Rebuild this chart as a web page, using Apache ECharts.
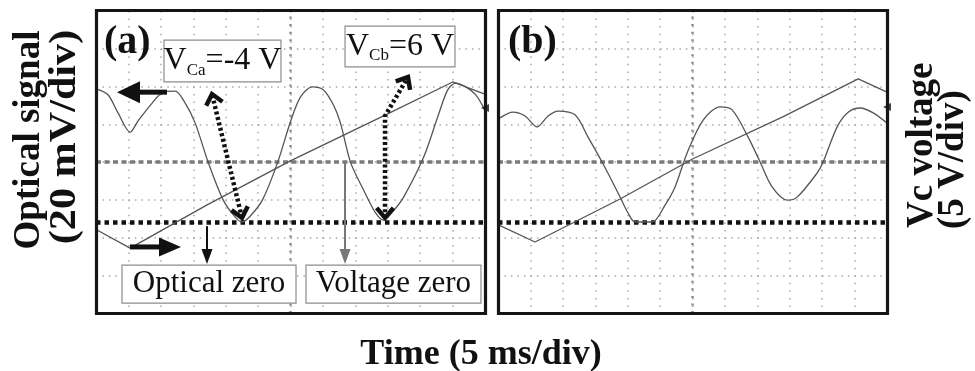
<!DOCTYPE html>
<html><head><meta charset="utf-8">
<script src="https://cdn.jsdelivr.net/npm/echarts@6/dist/echarts.min.js"></script>
<style>html,body{margin:0;padding:0;background:#fff}#c{width:975px;height:371px}</style>
</head><body><div id="c"></div>
<script>
// Time in ms (5 ms/div, 12 div), signals in screen divisions (0..8 div)
const timeA = [0.15,1.85,3.40,5.26,6.49,8.66,10.36,12.21,13.76,15.30,17.31,19.63,21.48,22.57,23.80,25.66,27.98,29.98,31.53,33.38,35.08,36.63,37.71,39.26,41.27,43.12,44.36,45.75,47.45,50.54,52.70,54.25,55.49,57.03,58.58,59.97];
const opticalA = [5.93,5.78,5.30,4.79,5.09,5.56,5.85,5.88,5.56,5.03,3.99,2.99,2.54,2.41,2.57,2.99,3.97,5.06,5.72,5.99,5.91,5.51,5.03,3.99,3.26,2.65,2.46,2.68,3.07,4.13,5.19,5.91,6.09,5.99,5.78,5.38];
const rampTimeA = [0.15,5.26,17.0,29.98,44.67,55.02,59.97];
const rampA = [2.20,1.72,2.85,4.03,5.25,6.12,5.80];

const timeB = [0.31,2.31,4.17,6.02,7.72,9.26,11.88,13.89,16.05,18.52,20.06,21.14,23.77,25.77,27.31,29.17,31.64,34.26,36.11,38.58,40.43,42.28,44.60,46.14,49.23,50.15,52.31,54.01,55.86,57.87,60.0];
const opticalB = [5.17,5.32,5.22,4.93,5.22,5.35,5.25,4.66,4.00,3.18,2.65,2.41,2.41,2.86,3.34,4.24,5.11,5.46,5.38,4.66,4.00,3.34,2.99,3.07,3.71,4.00,4.93,5.32,5.43,5.30,5.03];
const rampTimeB = [0.15,5.71,18.83,30.0,44.0,55.56,60.0];
const rampB = [2.33,1.88,3.02,4.08,5.20,6.20,5.85];

const opticalZeroLevel = 2.40;   // div
const voltageZeroLevel = 4.00;   // div (centre line)
const centreTime = 30;           // ms
const markerLevelA = 5.43, markerLevelB = 5.46;

const chart = echarts.init(document.getElementById('c'), null, {renderer: 'canvas'});

const gridBase = {top: 11, width: 389, height: 302, show: true, borderWidth: 0, backgroundColor: '#fff'};
function xAx(g) {
  return {gridIndex: g, type: 'value', min: 0, max: 60, interval: 5,
    axisLabel: {show: false}, axisTick: {show: false}, axisLine: {show: false},
    splitLine: {show: true, showMinLine: false, showMaxLine: false,
      lineStyle: {color: '#a8a8a8', width: 1.5, type: [1.5, 6.05]}}};
}
function yAx(g) {
  return {gridIndex: g, type: 'value', min: 0, max: 8, interval: 1,
    axisLabel: {show: false}, axisTick: {show: false}, axisLine: {show: false},
    splitLine: {show: true, showMinLine: false, showMaxLine: false,
      lineStyle: {color: '#a8a8a8', width: 1.5, type: [1.5, 4.98]}}};
}
function seriesFor(g, t, opt, rt, ramp, marker) {
  const base = {xAxisIndex: g, yAxisIndex: g, symbol: 'none', silent: true, animation: false};
  return [
    Object.assign({}, base, {type: 'line', data: [[centreTime, 0], [centreTime, 8]],
      lineStyle: {color: '#8a8a8a', width: 2.5, type: [2, 5.55]}, z: 2}),
    Object.assign({}, base, {type: 'line', data: [[0, voltageZeroLevel], [60, voltageZeroLevel]],
      lineStyle: {color: '#7a7a7a', width: 3.5, type: [5, 3.5]}, z: 3}),
    Object.assign({}, base, {type: 'line', data: [[0, opticalZeroLevel], [60, opticalZeroLevel]],
      lineStyle: {color: '#111', width: 4.5, type: [4.5, 4]}, z: 3}),
    Object.assign({}, base, {type: 'line', data: rt.map((v, i) => [v, ramp[i]]),
      lineStyle: {color: '#555', width: 1.3}, z: 4}),
    Object.assign({}, base, {type: 'line', smooth: 0.3, data: t.map((v, i) => [v, opt[i]]),
      lineStyle: {color: '#555', width: 1.3}, z: 4}),
    Object.assign({}, base, {type: 'scatter', symbol: 'triangle', symbolRotate: 90, symbolSize: 8,
      data: [[60, marker]], itemStyle: {color: '#111'}, z: 5})
  ];
}

chart.setOption({
  backgroundColor: '#fff',
  animation: false,
  grid: [Object.assign({left: 96}, gridBase), Object.assign({left: 498}, gridBase)],
  xAxis: [xAx(0), xAx(1)],
  yAxis: [yAx(0), yAx(1)],
  series: seriesFor(0, timeA, opticalA, rampTimeA, rampA, markerLevelA)
    .concat(seriesFor(1, timeB, opticalB, rampTimeB, rampB, markerLevelB))
});

function P(g, x, y) { return chart.convertToPixel({xAxisIndex: g, yAxisIndex: g}, [x, y]); }
const els = [];
function pl(points, color, w, dash) {
  els.push({type: 'polyline', z: 100, silent: true, shape: {points: points},
    style: {stroke: color, lineWidth: w, fill: null, lineDash: dash || null, lineJoin: 'miter'}});
}
function pg(points, color) {
  els.push({type: 'polygon', z: 100, silent: true, shape: {points: points}, style: {fill: color}});
}
function frame(g) {
  const a = P(g, 0, 8), b = P(g, 60, 0);
  els.push({type: 'rect', z: 110, silent: true,
    shape: {x: a[0] + 0.5, y: a[1] - 0.5, width: b[0] - a[0], height: b[1] - a[1] + 1},
    style: {fill: null, stroke: '#151515', lineWidth: 3.2}});
}
function solidArrow(g, tail, tip, shaftW, headLen, headHalf, color) {
  const a = P(g, tail[0], tail[1]), b = P(g, tip[0], tip[1]);
  const dx = b[0] - a[0], dy = b[1] - a[1], L = Math.hypot(dx, dy);
  const ux = dx / L, uy = dy / L, nx = -uy, ny = ux;
  const base = [b[0] - ux * headLen, b[1] - uy * headLen];
  pl([a, [base[0] + ux, base[1] + uy]], color, shaftW);
  pg([b, [base[0] + nx * headHalf, base[1] + ny * headHalf], [base[0] - nx * headHalf, base[1] - ny * headHalf]], color);
}
function chevron(tip, ux, uy) {
  const L = 13, ang = 40 * Math.PI / 180, c = Math.cos(ang), s = Math.sin(ang);
  const bx = -ux, by = -uy;
  const p1 = [tip[0] + L * (bx * c - by * s), tip[1] + L * (bx * s + by * c)];
  const p2 = [tip[0] + L * (bx * c + by * s), tip[1] + L * (-bx * s + by * c)];
  pl([p1, tip, p2], '#111', 4.5);
}
function dottedArrow(g, ptsD) {
  const pts = ptsD.map(p => P(g, p[0], p[1]));
  pl(pts, '#111', 4.5, [3, 2.6]);
  const n = pts.length;
  let dx = pts[0][0] - pts[1][0], dy = pts[0][1] - pts[1][1], L = Math.hypot(dx, dy);
  chevron(pts[0], dx / L, dy / L);
  dx = pts[n - 1][0] - pts[n - 2][0]; dy = pts[n - 1][1] - pts[n - 2][1]; L = Math.hypot(dx, dy);
  chevron(pts[n - 1], dx / L, dy / L);
}
function box(g, tl, br) {
  const a = P(g, tl[0], tl[1]), b = P(g, br[0], br[1]);
  els.push({type: 'rect', z: 101, silent: true, shape: {x: a[0], y: a[1], width: b[0] - a[0], height: b[1] - a[1]},
    style: {fill: '#fff', stroke: '#8c8c8c', lineWidth: 1.2}});
  return [(a[0] + b[0]) / 2, (a[1] + b[1]) / 2];
}
function txt(x, y, str, font, align, rot, rich, sx) {
  const st = {text: str, font: font, fill: '#111', align: align, textAlign: align, verticalAlign: 'middle', textVerticalAlign: 'middle'};
  if (rich) st.rich = rich;
  els.push({type: 'text', z: 102, silent: true, x: x, y: y, rotation: rot || 0, scaleX: sx || 1, style: st});
}

frame(0); frame(1);

// Panel (a) annotations
solidArrow(0, [10.95, 5.85], [3.24, 5.85], 5, 23, 11, '#111');
solidArrow(0, [5.24, 1.75], [13.11, 1.75], 5, 22, 9.5, '#111');
solidArrow(0, [17.12, 2.30], [17.12, 1.30], 2, 15, 5.5, '#111');
solidArrow(0, [38.41, 4.00], [38.41, 1.30], 2, 15, 5.5, '#777');
dottedArrow(0, [[22.52, 2.52], [17.89, 5.80]]);
dottedArrow(0, [[44.58, 2.52], [44.58, 5.22], [48.12, 6.25]]);

const rich = {
  m: {fontSize: 32, fontFamily: 'Liberation Serif', lineHeight: 36, fill: '#111'},
  s: {fontSize: 17, fontFamily: 'Liberation Serif', lineHeight: 14, verticalAlign: 'bottom', fill: '#111'}
};
let c = box(0, [10.49, 7.23], [28.53, 6.12]);
txt(c[0], c[1], '{m|V}{s|Ca}{m|=-4 V}', '32px "Liberation Serif"', 'center', 0, rich);
c = box(0, [38.41, 7.60], [55.37, 6.52]);
txt(c[0], c[1], '{m|V}{s|Cb}{m|=6 V}', '32px "Liberation Serif"', 'center', 0, rich);
c = box(0, [4.01, 1.27], [30.85, 0.26]);
txt(c[0], c[1], 'Optical zero', '31px "Liberation Serif"', 'center');
c = box(0, [32.39, 1.27], [59.38, 0.26]);
txt(c[0], c[1], 'Voltage zero', '31px "Liberation Serif"', 'center');

let p = P(0, 1.23, 7.58);
txt(p[0], p[1] + 16, '(a)', 'bold 40px "Liberation Serif"', 'left');
p = P(1, 1.54, 7.58);
txt(p[0], p[1] + 16, '(b)', 'bold 40px "Liberation Serif"', 'left');

// Axis titles
txt(29, 140, 'Optical signal', 'bold 37px "Liberation Serif"', 'center', Math.PI / 2);
txt(65, 137, '(20 mV/div)', 'bold 37px "Liberation Serif"', 'center', Math.PI / 2, null, 1.14);
txt(922, 228, 'Vc voltage', 'bold 37px "Liberation Serif"', 'left', Math.PI / 2);
txt(953, 229, '(5 V/div)', 'bold 37px "Liberation Serif"', 'left', Math.PI / 2);
txt(481, 355, 'Time (5 ms/div)', 'bold 36px "Liberation Serif"', 'center');

chart.setOption({graphic: {elements: els}});
</script></body></html>
